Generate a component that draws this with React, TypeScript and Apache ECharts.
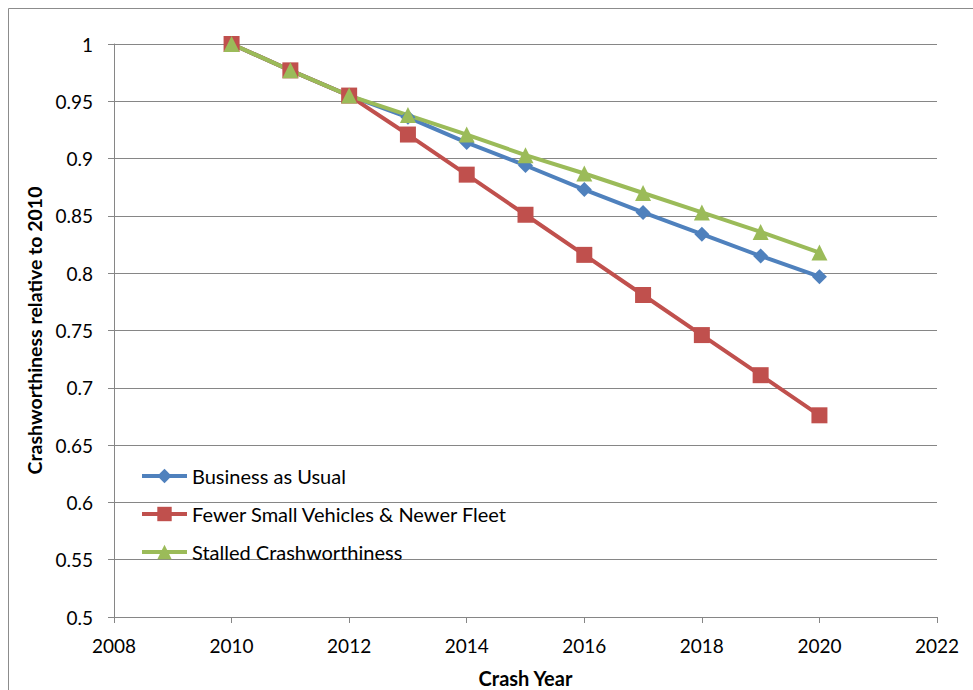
import React, { useEffect, useRef } from "react";
import * as echarts from "echarts";

const years = [2010, 2011, 2012, 2013, 2014, 2015, 2016, 2017, 2018, 2019, 2020];
const businessAsUsual = [1.0, 0.977, 0.955, 0.936, 0.914, 0.894, 0.873, 0.853, 0.834, 0.815, 0.797];
const fewerSmallVehicles = [1.0, 0.977, 0.955, 0.921, 0.886, 0.851, 0.816, 0.781, 0.746, 0.711, 0.676];
const stalledCrashworthiness = [1.0, 0.977, 0.955, 0.938, 0.921, 0.903, 0.887, 0.870, 0.853, 0.836, 0.818];
const seriesNames = [
  "Business as Usual",
  "Fewer Small Vehicles & Newer Fleet",
  "Stalled Crashworthiness",
];

const FONT = "Lato, 'Open Sans', sans-serif";
const GRID = "#868686";

export default function App() {
  const ref = useRef<HTMLDivElement>(null);
  useEffect(() => {
    if (!ref.current) return;
    const chart = echarts.init(ref.current, null, { renderer: "svg" });
    const pair = (vals: number[]) => years.map((y, i) => [y, vals[i]]);
    chart.setOption({
      animation: false,
      backgroundColor: "#ffffff",
      textStyle: { fontFamily: FONT },
      graphic: [
        {
          type: "rect",
          shape: { x: 8.5, y: 8.5, width: 1000, height: 1000 },
          style: { fill: "none", stroke: "#8c8c8c", lineWidth: 1 },
          silent: true,
        },
      ],
      grid: {
        left: 114,
        top: 44,
        right: 36,
        bottom: 73,
        containLabel: false,
        outerBoundsMode: "none",
      },
      legend: {
        orient: "vertical",
        left: 140,
        top: 466,
        padding: 0,
        itemWidth: 45,
        itemHeight: 18,
        itemGap: 18,
        data: seriesNames,
        lineStyle: { width: 4 },
        textStyle: { fontFamily: FONT, fontSize: 20, color: "#000", lineHeight: 20 },
      },
      xAxis: {
        type: "value",
        min: 2008,
        max: 2022,
        interval: 2,
        name: "Crash Year",
        nameLocation: "middle",
        nameGap: 51,
        nameTextStyle: { fontFamily: FONT, fontSize: 20, fontWeight: "bold", color: "#000" },
        axisLine: { show: true, lineStyle: { color: GRID, width: 1 } },
        axisTick: { show: true, length: 6, lineStyle: { color: GRID } },
        axisLabel: {
          color: "#000",
          fontSize: 19,
          fontFamily: FONT,
          margin: 19,
          formatter: (v: number) => String(v),
        },
        splitLine: { show: false },
      },
      yAxis: {
        type: "value",
        min: 0.5,
        max: 1,
        interval: 0.05,
        name: "Crashworthiness relative to 2010",
        nameLocation: "middle",
        nameRotate: 90,
        nameGap: 69,
        nameTextStyle: { fontFamily: FONT, fontSize: 19.5, fontWeight: "bold", color: "#000" },
        axisLine: { show: true, lineStyle: { color: GRID, width: 1 } },
        axisTick: { show: true, length: 6, lineStyle: { color: GRID } },
        axisLabel: {
          color: "#000",
          fontSize: 19,
          fontFamily: FONT,
          margin: 21,
          formatter: (v: number) => String(parseFloat(v.toFixed(2))),
        },
        splitLine: { show: true, lineStyle: { color: GRID, width: 1 } },
      },
      series: [
        {
          name: seriesNames[0],
          type: "line",
          data: pair(businessAsUsual),
          symbol: "diamond",
          symbolSize: 15,
          lineStyle: { width: 4, color: "#4F81BD" },
          itemStyle: { color: "#4F81BD" },
        },
        {
          name: seriesNames[1],
          type: "line",
          data: pair(fewerSmallVehicles),
          symbol: "rect",
          symbolSize: 16,
          lineStyle: { width: 4, color: "#C0504D" },
          itemStyle: { color: "#C0504D" },
        },
        {
          name: seriesNames[2],
          type: "line",
          data: pair(stalledCrashworthiness),
          symbol: "triangle",
          symbolSize: 16,
          lineStyle: { width: 4, color: "#9BBB59" },
          itemStyle: { color: "#9BBB59" },
        },
      ],
    });
    return () => chart.dispose();
  }, []);
  return (
    <div
      ref={ref}
      style={{ position: "fixed", left: 0, top: 0, width: 973, height: 690 }}
    />
  );
}
